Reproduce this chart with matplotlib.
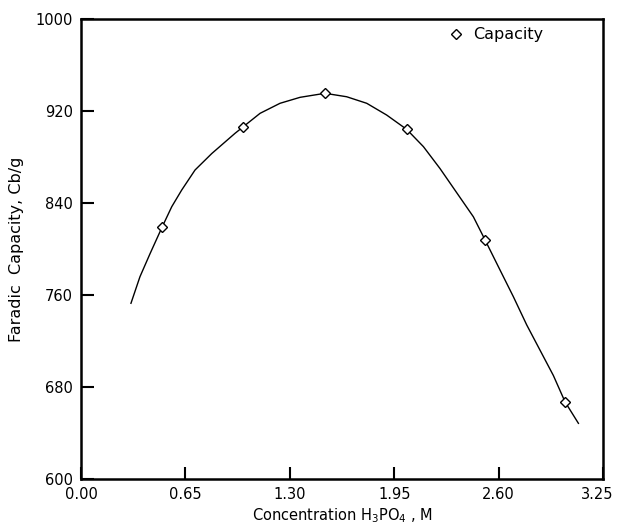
import matplotlib
matplotlib.use("Agg")
import matplotlib.pyplot as plt
import matplotlib.transforms as mtransforms

conc = [0.506, 1.011, 1.519, 2.028, 2.516, 3.014]
capacity = [819.4, 906.4, 935.4, 904, 807.8, 667]

curve_x = [0.311, 0.367, 0.43, 0.506, 0.565, 0.627, 0.71, 0.814, 0.959, 1.011,
           1.115, 1.239, 1.364, 1.519, 1.654, 1.779, 1.903, 2.028, 2.132, 2.235,
           2.339, 2.443, 2.516, 2.609, 2.692, 2.775, 2.858, 2.941, 3.014, 3.097]
curve_y = [752.8, 775.9, 796, 819.4, 836.8, 851.3, 868.7, 883, 900.6, 906.4,
           918, 926.7, 931.9, 935.4, 932.4, 926.7, 916.5, 904, 889, 870,
           849, 828, 807.8, 781.7, 758.5, 734, 712, 690, 667, 648.4]

xticks = [0.00, 0.65, 1.30, 1.95, 2.60, 3.25]
yticks = [600, 680, 760, 840, 920, 1000]

plt.rcParams['font.family'] = ['DejaVu Sans']

fig = plt.figure(figsize=(6.17, 5.28), dpi=100)
ax = fig.add_axes([0.1313, 0.0928, 0.846, 0.8712])

ax.plot(curve_x, curve_y, color='black', lw=1.0)
ax.plot(conc, capacity, linestyle='none', marker='D', markersize=5.5,
        markerfacecolor='white', markeredgecolor='black', markeredgewidth=1.0,
        label='Capacity')

ax.set_xlim(0, 3.25)
ax.set_ylim(600, 1000)
ax.set_xticks(xticks)
ax.set_xticklabels([f"{v:.2f}" for v in xticks])
ax.set_yticks(yticks)
ax.set_yticklabels([str(v) for v in yticks])
ax.tick_params(direction='in', length=9, width=1.5, labelsize=10.5, pad=6,
               top=False, right=False)
for s in ax.spines.values():
    s.set_linewidth(1.8)

# shift last x tick label left so it fits inside the figure
last = ax.get_xticklabels()[-1]
last.set_transform(last.get_transform() +
                   mtransforms.ScaledTranslation(-6 / 100, 0, fig.dpi_scale_trans))

ax.set_xlabel('Concentration H$_3$PO$_4$ , M', fontsize=10.5, labelpad=3)
ax.set_ylabel('Faradic  Capacity, Cb/g', fontsize=11.5, labelpad=8)

leg = ax.legend(loc='upper left', frameon=False, fontsize=11.5,
                handletextpad=0.55, borderpad=0, borderaxespad=0,
                bbox_to_anchor=(0.703, 0.982),
                markerscale=0.9, handlelength=1.0)

fig.savefig('out.png', dpi=100)
